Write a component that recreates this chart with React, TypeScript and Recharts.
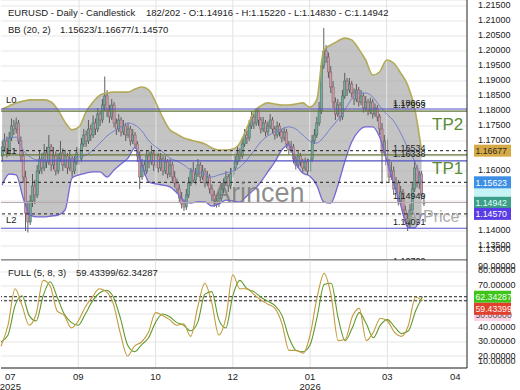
import React from "react";
import { ComposedChart, Bar, Line, Area, XAxis, YAxis, CartesianGrid, ReferenceLine } from "recharts";

const FONT = "'Liberation Sans', Arial, Helvetica, sans-serif";

const SLOT_COUNT = 200;

// daily candles [open, high, low, close] in units of 0.0001
const CANDLES: number[][] = [
  [11650,11700,11630,11680],[11680,11725,11665,11700],[11700,11715,11645,11660],[11660,11730,11650,11710],
  [11710,11775,11700,11750],[11750,11770,11720,11740],[11740,11778,11725,11760],[11760,11770,11690,11700],
  [11700,11715,11630,11650],[11650,11665,11560,11580],[11580,11600,11400,11460],[11460,11500,11395,11430],
  [11430,11520,11420,11500],[11500,11590,11480,11550],[11550,11570,11490,11520],[11520,11620,11510,11600],
  [11600,11670,11590,11640],[11640,11660,11590,11610],[11610,11690,11600,11660],[11660,11680,11610,11630],
  [11630,11720,11620,11680],[11680,11690,11600,11620],[11620,11680,11605,11650],[11650,11665,11585,11600],
  [11600,11660,11590,11640],[11640,11700,11630,11660],[11660,11675,11600,11620],[11620,11670,11610,11650],
  [11650,11660,11590,11610],[11610,11665,11600,11640],[11640,11650,11580,11600],[11600,11650,11590,11630],
  [11630,11680,11620,11660],[11660,11675,11620,11640],[11640,11710,11630,11690],[11690,11740,11680,11720],
  [11720,11735,11680,11700],[11700,11770,11690,11740],[11740,11755,11700,11720],[11720,11785,11710,11760],
  [11760,11775,11720,11740],[11740,11810,11730,11790],[11790,11800,11750,11770],[11770,11840,11760,11820],
  [11820,11915,11800,11850],[11850,11870,11780,11800],[11800,11820,11760,11780],[11780,11840,11770,11820],
  [11820,11830,11745,11760],[11760,11775,11720,11740],[11740,11790,11730,11770],[11770,11780,11715,11730],
  [11730,11770,11720,11750],[11750,11760,11700,11720],[11720,11760,11710,11740],[11740,11750,11685,11700],
  [11700,11740,11690,11720],[11720,11730,11675,11690],[11690,11700,11630,11650],[11650,11665,11540,11580],
  [11580,11640,11570,11620],[11620,11635,11585,11600],[11600,11670,11590,11650],[11650,11665,11610,11630],
  [11630,11685,11620,11660],[11660,11670,11600,11620],[11620,11670,11610,11650],[11650,11660,11595,11610],
  [11610,11660,11600,11640],[11640,11650,11585,11600],[11600,11650,11590,11630],[11630,11640,11575,11590],
  [11590,11640,11580,11620],[11620,11630,11565,11580],[11580,11600,11545,11560],[11560,11575,11525,11540],
  [11540,11555,11495,11510],[11510,11530,11475,11490],[11490,11505,11467,11480],[11480,11540,11470,11520],
  [11520,11580,11510,11560],[11560,11610,11550,11600],[11600,11630,11560,11570],[11570,11610,11555,11590],
  [11590,11640,11580,11620],[11620,11630,11565,11580],[11580,11620,11570,11600],[11600,11610,11545,11560],
  [11560,11600,11550,11580],[11580,11590,11525,11540],[11540,11555,11500,11520],[11520,11535,11480,11500],
  [11500,11520,11478,11490],[11490,11530,11480,11510],[11510,11560,11500,11540],[11540,11575,11525,11560],
  [11560,11600,11550,11580],[11580,11590,11530,11550],[11550,11610,11540,11590],[11590,11630,11580,11610],
  [11610,11650,11600,11630],[11630,11680,11620,11660],[11660,11675,11630,11650],[11650,11710,11640,11690],
  [11690,11740,11680,11720],[11720,11735,11690,11710],[11710,11770,11700,11750],[11750,11800,11740,11780],
  [11780,11790,11740,11760],[11760,11807,11750,11800],[11800,11805,11750,11770],[11770,11780,11725,11740],
  [11740,11780,11730,11760],[11760,11770,11715,11730],[11730,11765,11720,11750],[11750,11790,11740,11770],
  [11770,11780,11725,11740],[11740,11750,11705,11720],[11720,11765,11710,11750],[11750,11760,11715,11730],
  [11730,11740,11695,11710],[11710,11745,11700,11730],[11730,11740,11675,11690],[11690,11700,11655,11670],
  [11670,11700,11660,11680],[11680,11690,11625,11640],[11640,11650,11605,11620],[11620,11665,11610,11650],
  [11650,11660,11615,11630],[11630,11640,11595,11610],[11610,11645,11600,11630],[11630,11640,11587,11600],
  [11600,11660,11595,11640],[11640,11720,11630,11700],[11700,11740,11690,11720],[11720,11780,11710,11760],
  [11760,11830,11750,11800],[11800,11970,11790,11950],[11950,12077,11940,12000],[12000,12020,11960,11980],
  [11980,11995,11910,11930],[11930,11950,11860,11880],[11880,11900,11810,11830],[11830,11845,11770,11790],
  [11790,11840,11780,11820],[11820,11830,11765,11780],[11780,11870,11770,11850],[11850,11927,11840,11900],
  [11900,11910,11850,11870],[11870,11910,11860,11890],[11890,11900,11845,11860],[11860,11875,11820,11840],
  [11840,11890,11830,11870],[11870,11880,11815,11830],[11830,11870,11820,11850],[11850,11860,11795,11810],
  [11810,11850,11800,11830],[11830,11840,11785,11800],[11800,11845,11790,11830],[11830,11840,11775,11790],
  [11790,11825,11780,11810],[11810,11820,11765,11780],[11780,11790,11720,11740],[11740,11760,11557,11660],
  [11660,11720,11650,11700],[11700,11710,11600,11620],[11620,11640,11560,11580],[11580,11630,11570,11600],
  [11600,11615,11520,11540],[11540,11580,11525,11560],[11560,11570,11485,11500],[11500,11550,11490,11530],
  [11530,11540,11455,11470],[11470,11485,11425,11440],[11440,11460,11400,11420],[11420,11490,11410,11470],
  [11470,11560,11460,11540],[11540,11633,11530,11610],[11610,11620,11545,11560],[11560,11600,11540,11590],
  [11590,11600,11505,11520],[11492,11522,11483,11494],
];

// Bollinger Bands (20, 2), one reading every BAND_STEP candles
const BAND_STEP = 3;
const BB_UPPER = [
  1.1807,1.1817,1.1827,1.1833,1.1837,1.1837,1.1837,1.1830,1.1803,1.1763,
  1.1737,1.1747,1.1797,1.1830,1.1853,1.1860,1.1863,1.1863,1.1863,1.1873,
  1.1880,1.1870,1.1827,1.1777,1.1737,1.1723,1.1710,1.1703,1.1697,1.1690,
  1.1677,1.1670,1.1670,1.1673,1.1693,1.1743,1.1797,1.1817,1.1827,1.1823,
  1.1820,1.1820,1.1823,1.1827,1.1813,1.1837,1.2003,1.2020,1.2033,1.2043,
  1.2037,1.2007,1.1970,1.1920,1.1930,1.1970,1.1960,1.1927,1.1887,1.1810,
  1.1668,
];
const BB_MID = [
  1.1703,1.1710,1.1713,1.1670,1.1647,1.1637,1.1637,1.1637,1.1637,1.1637,
  1.1640,1.1647,1.1653,1.1670,1.1693,1.1717,1.1733,1.1747,1.1760,1.1753,
  1.1733,1.1700,1.1680,1.1663,1.1643,1.1633,1.1620,1.1603,1.1597,1.1590,
  1.1580,1.1587,1.1593,1.1600,1.1613,1.1637,1.1667,1.1697,1.1717,1.1730,
  1.1740,1.1747,1.1740,1.1720,1.1700,1.1693,1.1713,1.1743,1.1770,1.1803,
  1.1840,1.1860,1.1860,1.1847,1.1817,1.1790,1.1767,1.1727,1.1677,1.1633,
  1.1562,
];
const BB_LOWER = [
  1.1553,1.1590,1.1587,1.1510,1.1453,1.1447,1.1447,1.1450,1.1453,1.1470,
  1.1577,1.1587,1.1593,1.1597,1.1597,1.1580,1.1603,1.1623,1.1643,1.1677,
  1.1620,1.1563,1.1557,1.1553,1.1547,1.1527,1.1500,1.1493,1.1497,1.1497,
  1.1483,1.1490,1.1503,1.1500,1.1497,1.1517,1.1537,1.1563,1.1597,1.1630,
  1.1670,1.1687,1.1627,1.1593,1.1583,1.1553,1.1497,1.1493,1.1550,1.1630,
  1.1697,1.1733,1.1747,1.1747,1.1713,1.1637,1.1560,1.1487,1.1413,1.1410,
  1.1457,
];

// Full stochastic (5, 8, 3), same sampling
const STOCH_K = [
  27,42,68,56,42,50,74,70,52,49,40,45,55,62,68,66,57,36,20,27,
  30,37,51,49,46,42,43,34,55,72,58,35,47,78,68,68,64,60,57,54,
  43,24,24,22,35,62,79,63,31,32,48,54,31,37,47,45,37,34,42,62,
  59.43,
];
const STOCH_D = [
  30,35,56,63,49,45,63,73,62,50,44,42,50,59,65,67,62,47,28,23,
  28,33,44,50,48,44,42,38,44,64,66,46,40,63,74,68,66,62,59,56,
  49,33,24,23,28,48,71,72,47,31,40,51,43,33,42,46,41,36,38,52,
  62.34,
];

const PRICE_TICKS = [
  1.13033, 1.135, 1.14, 1.145, 1.15, 1.155, 1.16, 1.165, 1.17, 1.175,
  1.18, 1.185, 1.19, 1.195, 1.2, 1.205, 1.21, 1.215,
];
const PRICE_DOMAIN = [1.13033, 1.217];
const HIDDEN_PRICE_TICKS = [1.145, 1.15, 1.155, 1.165];
const STOCH_TICKS = [20, 30, 40, 50, 60, 70, 80];
const STOCH_DOMAIN = [11.43, 88.57];
const HIDDEN_STOCH_TICKS = [50, 60];

const MONTH_TICKS = [4, 33, 66, 99, 132, 165, 194];
const MONTH_LABELS = ["07", "09", "10", "12", "01", "03", "04"];
const YEAR_LABELS = ["2025", "", "", "", "2026", "", ""];

// horizontal levels
const LEVEL_PRICES = [1.18066, 1.17993, 1.16534, 1.16338, 1.14949, 1.14091];
const LEVEL_TEXT = ["1.18066", "1.17993", "1.16534", "1.16338", "1.14949", "1.14091"];
const BB_NOW = [1.16677, 1.15623, 1.1457];
const PRICE_TAGS = [1.16677, 1.15345, 1.15623, 1.14942, 1.1457];
const PRICE_TAG_TEXT = ["1.16677", "", "1.15623", "1.14942", "1.14570"];
const STOCH_NOW = [59.43399, 62.34287];
const STOCH_TAGS = [50, 62.34287, 59.43399];
const STOCH_TAG_TEXT = ["50.00000", "62.34287", "59.43399"];

const rows = Array.from({ length: SLOT_COUNT }, (_, i) => {
  const row: any = { i };
  const c = CANDLES[i];
  if (c) {
    row.o = c[0] / 1e4;
    row.h = c[1] / 1e4;
    row.l = c[2] / 1e4;
    row.c = c[3] / 1e4;
    row.range = [c[2] / 1e4, c[1] / 1e4];
  }
  if (i % BAND_STEP === 0) {
    const j = i / BAND_STEP;
    if (j < BB_UPPER.length) {
      row.bbU = BB_UPPER[j];
      row.bbM = BB_MID[j];
      row.bbL = BB_LOWER[j];
      row.bb = [BB_LOWER[j], BB_UPPER[j]];
      row.k = STOCH_K[j];
      row.d = STOCH_D[j];
    }
  }
  return row;
});

const Candle = (p: any) => {
  const { x, y, width, height, payload } = p;
  if (!payload || payload.range == null || x == null || y == null) return null;
  const top = Math.min(y, y + height);
  const hh = Math.abs(height);
  const span = payload.h - payload.l || 1e-9;
  const yO = top + ((payload.h - payload.o) / span) * hh;
  const yC = top + ((payload.h - payload.c) / span) * hh;
  const up = payload.c >= payload.o;
  const cx = x + width / 2;
  return (
    <g>
      <line x1={cx} x2={cx} y1={top} y2={top + hh} stroke="#4f4f4f" strokeWidth={0.9} />
      <rect
        x={cx - 1.1}
        y={Math.min(yO, yC)}
        width={2.2}
        height={Math.max(Math.abs(yC - yO), 0.8)}
        fill={up ? "#74a99c" : "#cf9aa8"}
        stroke={up ? "#46695f" : "#7d5a63"}
        strokeWidth={0.5}
      />
    </g>
  );
};

const PriceTick = (p: any) => {
  const v = p.payload?.value;
  if (v == null) return null;
  if (HIDDEN_PRICE_TICKS.some((h) => Math.abs(h - v) < 1e-6)) return null;
  const bottom = v < PRICE_TICKS[1] - 0.001;
  const label = (Math.floor(v * 200 + 1e-6) / 200).toFixed(5);
  return (
    <text x={p.x + 9} y={p.y + (bottom ? -11 : -1) + 3.3} fontSize={9} fill="#222" fontFamily={FONT}>
      {label}
    </text>
  );
};

const StochTick = (p: any) => {
  const v = p.payload?.value;
  if (v == null || HIDDEN_STOCH_TICKS.includes(v)) return null;
  const t = (val: number, dy: number) => (
    <text x={p.x + 9} y={p.y + dy + 3.3} fontSize={9} fill="#222" fontFamily={FONT}>
      {val.toFixed(5)}
    </text>
  );
  if (v === STOCH_TICKS[STOCH_TICKS.length - 1]) {
    return <g>{t(v + 10, -6)}{t(v, -2)}</g>;
  }
  if (v === STOCH_TICKS[0]) {
    return <g>{t(v, 0)}{t(v - 10, 5)}</g>;
  }
  return t(v, -1);
};

const MonthTick = (p: any) => {
  const idx = MONTH_TICKS.indexOf(p.payload?.value);
  if (idx < 0) return null;
  return (
    <g>
      <text x={p.x} y={p.y + 9.5} textAnchor="middle" fontSize={9.5} fill="#222" fontFamily={FONT}>
        {MONTH_LABELS[idx]}
      </text>
      {YEAR_LABELS[idx] ? (
        <text x={p.x} y={p.y + 19.5} textAnchor="middle" fontSize={9.5} fill="#222" fontFamily={FONT}>
          {YEAR_LABELS[idx]}
        </text>
      ) : null}
    </g>
  );
};

const makeTag = (text: string, bg: string, fg: string, shift: number) => (p: any) => {
  const vb = p.viewBox || {};
  const right = (vb.x ?? 0) + (vb.width ?? 0);
  const cy = (vb.y ?? 0) + shift;
  return (
    <g>
      <rect x={right + 7} y={cy - 6} width={37} height={12} fill={bg} />
      {text ? (
        <text x={right + 8.5} y={cy + 3.2} fontSize={8.7} fill={fg} fontFamily={FONT}>
          {text}
        </text>
      ) : null}
    </g>
  );
};

const makeLevelLabel = (text: string) => (p: any) => {
  const vb = p.viewBox || {};
  return (
    <text x={(vb.x ?? 0) + 392} y={(vb.y ?? 0) - 3.5} fontSize={9} fill="#222" fontFamily={FONT}>
      {text}
    </text>
  );
};

const LEVEL_STROKES = ["#5050c4", "#66783a", "#66783a", "#5050c4", "#b8a9b0", "#5a50c8"];
const PRICE_TAG_COLORS = [
  ["#d6a945", "#2a2a2a"],
  ["#c6f3f6", "#2a2a2a"],
  ["#3d8fe6", "#ffffff"],
  ["#3a9e88", "#e6fff6"],
  ["#5a3ce6", "#ffffff"],
];
const STOCH_TAG_COLORS = [
  ["#ffd3e4", "#555555"],
  ["#3ec41a", "#f4fff0"],
  ["#e0402c", "#fff4f0"],
];
const STOCH_TAG_SHIFT = [1, 0, 8];

const GRID_X = MONTH_TICKS.slice(1, 6);

export default function App() {
  return (
    <div style={{ position: "absolute", left: 0, top: 0, width: 520, height: 390, background: "#fff", overflow: "hidden" }}>
      <div style={{ position: "absolute", left: 0, top: 0 }}>
        <ComposedChart width={520} height={261} data={rows} margin={{ top: 0, right: 0, bottom: 0, left: 1 }} barCategoryGap="10%">
          <CartesianGrid vertical={false} stroke="#e6e6e6" />
          {GRID_X.map((t) => (
            <ReferenceLine key={"gx" + t} x={t} stroke="#e2e2e2" />
          ))}
          <XAxis dataKey="i" type="category" height={1} tick={false} tickLine={false} axisLine={{ stroke: "#333" }} />
          <YAxis
            orientation="right"
            width={53}
            domain={PRICE_DOMAIN}
            allowDataOverflow
            ticks={PRICE_TICKS}
            interval={0}
            tick={<PriceTick />}
            tickLine={false}
            tickSize={0}
            axisLine={{ stroke: "#222" }}
          />
          <Area dataKey="bb" type="monotone" stroke="none" fill="#a8a8a8" fillOpacity={0.68} connectNulls isAnimationActive={false} />
          <Bar dataKey="range" shape={(p: any) => <Candle {...p} />} isAnimationActive={false} />
          <Line dataKey="bbM" type="monotone" stroke="#7480cc" strokeWidth={1} dot={false} connectNulls isAnimationActive={false} />
          <Line dataKey="bbU" type="monotone" stroke="#b3ab58" strokeWidth={1.6} dot={false} connectNulls isAnimationActive={false} />
          <Line dataKey="bbL" type="monotone" stroke="#7468d6" strokeWidth={1.3} dot={false} connectNulls isAnimationActive={false} />
          {LEVEL_PRICES.map((v, n) => (
            <ReferenceLine key={"lv" + n} y={v} stroke={LEVEL_STROKES[n]} strokeWidth={1.2} label={makeLevelLabel(LEVEL_TEXT[n])} />
          ))}
          {BB_NOW.map((v, n) => (
            <ReferenceLine key={"bn" + n} y={v} stroke="#1e1e1e" strokeDasharray="3 3" strokeWidth={1} />
          ))}
          {PRICE_TAGS.map((v, n) => (
            <ReferenceLine
              key={"pt" + n}
              y={v}
              stroke="none"
              label={makeTag(PRICE_TAG_TEXT[n], PRICE_TAG_COLORS[n][0], PRICE_TAG_COLORS[n][1], 0)}
            />
          ))}
        </ComposedChart>
      </div>
      <div style={{ position: "absolute", left: 0, top: 260 }}>
        <ComposedChart width={520} height={130} data={rows} margin={{ top: 0, right: 0, bottom: 0, left: 1 }}>
          <CartesianGrid vertical={false} stroke="#e6e6e6" />
          {GRID_X.map((t) => (
            <ReferenceLine key={"sgx" + t} x={t} stroke="#e2e2e2" />
          ))}
          <XAxis
            dataKey="i"
            type="category"
            height={22}
            ticks={MONTH_TICKS}
            interval={0}
            tick={<MonthTick />}
            tickLine={false}
            tickSize={0}
            axisLine={{ stroke: "#222" }}
          />
          <YAxis
            orientation="right"
            width={53}
            domain={STOCH_DOMAIN}
            allowDataOverflow
            ticks={STOCH_TICKS}
            interval={0}
            tick={<StochTick />}
            tickLine={false}
            tickSize={0}
            axisLine={{ stroke: "#222" }}
          />
          {STOCH_NOW.map((v, n) => (
            <ReferenceLine key={"sn" + n} y={v} stroke="#1e1e1e" strokeDasharray="3 2" strokeWidth={1} />
          ))}
          <Line dataKey="d" type="monotone" stroke="#5f9a2c" strokeWidth={1.1} dot={false} connectNulls isAnimationActive={false} />
          <Line dataKey="k" type="monotone" stroke="#c49a3c" strokeWidth={1.1} dot={false} connectNulls isAnimationActive={false} />
          {STOCH_TAGS.map((v, n) => (
            <ReferenceLine
              key={"st" + n}
              y={v}
              stroke="none"
              label={makeTag(STOCH_TAG_TEXT[n], STOCH_TAG_COLORS[n][0], STOCH_TAG_COLORS[n][1], STOCH_TAG_SHIFT[n])}
            />
          ))}
        </ComposedChart>
      </div>
      <svg width={520} height={390} style={{ position: "absolute", left: 0, top: 0, pointerEvents: "none" }}>
        <defs>
          <clipPath id="pricePane">
            <rect x={0} y={0} width={467} height={260} />
          </clipPath>
        </defs>
        <g fontFamily={FONT} fontSize={9.5} fill="#222">
          <text x={8} y={16}>EURUSD - Daily - Candlestick</text>
          <text x={146} y={16}>182/202 - O:1.14916 - H:1.15220 - L:1.14830 - C:1.14942</text>
          <text x={8} y={33}>BB (20, 2)</text>
          <text x={60} y={33}>1.15623/1.16677/1.14570</text>
          <text x={8} y={276}>FULL (5, 8, 3)</text>
          <text x={76} y={276}>59.43399/62.34287</text>
          <text x={6} y={103}>L0</text>
          <text x={6} y={154}>L1</text>
          <text x={6} y={223}>L2</text>
          <text x={393} y={264} fontSize={9} clipPath="url(#pricePane)">1.10709</text>
        </g>
        <text x={432} y={130} fontFamily={FONT} fontSize={17} fill="#5c8a34">TP2</text>
        <text x={432} y={174} fontFamily={FONT} fontSize={17} fill="#5c8a34">TP1</text>
        <text x={213} y={202} fontFamily={FONT} fontSize={27} fill="#7a7a7a" fillOpacity={0.85}>Arincen</text>
        <text x={407} y={222} fontFamily={FONT} fontSize={16} fill="#a0a0a0" fillOpacity={0.9}>ArPrice</text>
      </svg>
    </div>
  );
}
